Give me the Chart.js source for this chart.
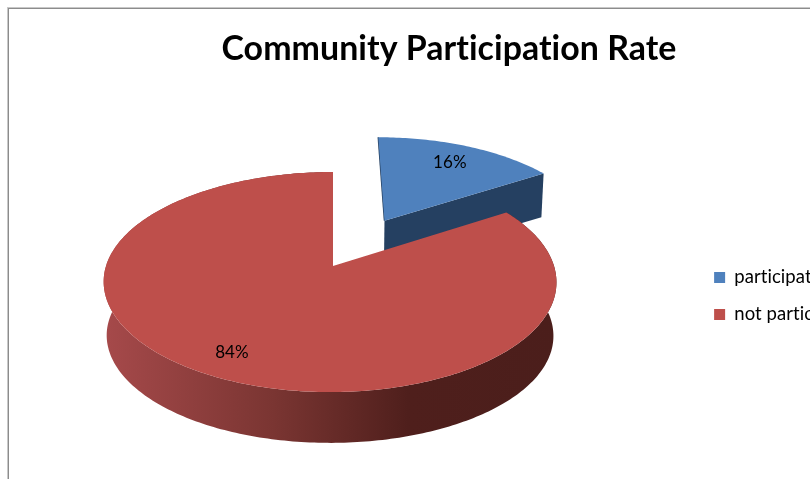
<!DOCTYPE html>
<html>
<head>
<meta charset="utf-8">
<script src="https://cdn.jsdelivr.net/npm/chart.js@4"></script>
<style>
  html, body { margin: 0; background: #fff; overflow: hidden; width: 810px; height: 479px; }
  #frame { position: absolute; left: 8px; top: 8px; width: 882px; height: 574px; border: 1px solid #8c8c8c; box-shadow: -1px -1px 0 #c8c8c8; }
</style>
</head>
<body>
<div id="frame"><canvas id="pie" width="882" height="574"></canvas></div>
<script>
const categories = ['participation', 'not participation'];
const shares = [16, 84];
const sliceColors = ['#4f81bd', '#be4f4b'];
const wallColors = ['#254061', '#4b1e1b'];
const explode = [0.51, 0];
const wallDepth = [0.78, 1];
const labelRadius = [0.76, 0.82];
const chartTitle = 'Community Participation Rate';

// Tilted view of the pie: top face and the lower rim of the wall
const view = { x: 330, bend: 3, tilt: 0.1455, top: { y: 266, rx: 224, ry: 107.7 }, low: { y: 320, rx: 221, ry: 105 } };

function project(u, v, face) {
  const w = 1 - view.tilt * v;
  const bend = view.bend * Math.max(0, 1 - u * u) * (1 - Math.max(0, v));
  return [view.x + bend + face.rx * u / w, face.y + face.ry * v / w];
}

function rimPoints(arc, shift, face) {
  const mid = (arc.startAngle + arc.endAngle) / 2;
  const ox = Math.cos(mid) * shift, oy = Math.sin(mid) * shift;
  const pts = [];
  const n = Math.ceil((arc.endAngle - arc.startAngle) * 60);
  for (let i = 0; i <= n; i++) {
    const a = arc.startAngle + (arc.endAngle - arc.startAngle) * i / n;
    pts.push(project(ox + Math.cos(a), oy + Math.sin(a), face));
  }
  return { pts, apex: project(ox, oy, face) };
}

function fillPath(ctx, pts, fill) {
  ctx.beginPath();
  pts.forEach((p, i) => i ? ctx.lineTo(p[0], p[1]) : ctx.moveTo(p[0], p[1]));
  ctx.closePath();
  ctx.fillStyle = fill;
  ctx.fill();
}

const pie3d = {
  id: 'pie3d',
  beforeDraw(chart) {
    // no ti ligatures in the texts
    chart.ctx.letterSpacing = '0.05px';
  },
  beforeDatasetsDraw(chart) {
    const ctx = chart.ctx;
    const arcs = chart.getDatasetMeta(0).data;
    ctx.save();
    // canvas sits 9px inside the page
    ctx.translate(-9, -9);
    arcs.forEach((arc, i) => {
      const top = rimPoints(arc, explode[i], view.top);
      const low = rimPoints(arc, explode[i], view.low);
      const drop = (a, b) => [a[0] + (b[0] - a[0]) * wallDepth[i], a[1] + (b[1] - a[1]) * wallDepth[i]];
      let wall = wallColors[i];
      if (i === 1) {
        wall = ctx.createLinearGradient(108, 0, 556, 0);
        wall.addColorStop(0, '#a5494a');
        wall.addColorStop(0.37, '#7a3532');
        wall.addColorStop(0.67, '#4f1f1c');
        wall.addColorStop(1, '#4b1e1b');
      }
      const last = top.pts.length - 1;
      // radial face on the closing side
      fillPath(ctx, [top.apex, top.pts[last], drop(top.pts[last], low.pts[last]), drop(top.apex, low.apex)], wall);
      if (i === 0) {
        // exploded slice only shows a thin dark edge on its left side
        ctx.beginPath();
        ctx.moveTo(top.pts[0][0], top.pts[0][1]);
        ctx.lineTo(top.apex[0], top.apex[1]);
        ctx.strokeStyle = wall;
        ctx.lineWidth = 1.5;
        ctx.stroke();
      } else {
        // outer wall, one strip per step so the sides stay filled
        ctx.beginPath();
        for (let k = 0; k < last; k++) {
          const a = top.pts[k], b = top.pts[k + 1];
          const c = drop(b, low.pts[k + 1]), d = drop(a, low.pts[k]);
          ctx.moveTo(a[0], a[1]);
          ctx.lineTo(b[0], b[1]);
          ctx.lineTo(c[0], c[1]);
          ctx.lineTo(d[0], d[1]);
          ctx.closePath();
        }
        ctx.fillStyle = wall;
        ctx.fill('nonzero');
      }
      // top face
      fillPath(ctx, [top.apex].concat(top.pts), sliceColors[i]);
    });
    // value labels
    ctx.font = '17px Lato';
    ctx.fillStyle = '#000';
    ctx.textAlign = 'center';
    ctx.textBaseline = 'middle';
    arcs.forEach((arc, i) => {
      const mid = (arc.startAngle + arc.endAngle) / 2;
      const r = explode[i] + labelRadius[i];
      const p = project(Math.cos(mid) * r, Math.sin(mid) * r, view.top);
      ctx.fillText(shares[i] + '%', p[0], p[1]);
    });
    ctx.restore();
    return false;
  }
};

new Chart(document.getElementById('pie'), {
  type: 'pie',
  data: {
    labels: categories,
    datasets: [{ data: shares, backgroundColor: sliceColors, borderWidth: 0 }]
  },
  plugins: [pie3d],
  options: {
    responsive: false,
    animation: false,
    layout: { padding: { left: 10, right: 12 } },
    plugins: {
      title: {
        display: true,
        text: chartTitle,
        color: '#000',
        font: { family: 'Lato', size: 33.9, weight: 'bold' },
        padding: { top: 20, bottom: 10 }
      },
      legend: {
        position: 'right',
        labels: {
          boxWidth: 11,
          boxHeight: 11,
          padding: 18.5,
          color: '#000',
          font: { family: 'Lato', size: 18.5 }
        }
      },
      tooltip: { enabled: false }
    }
  }
});
</script>
</body>
</html>
